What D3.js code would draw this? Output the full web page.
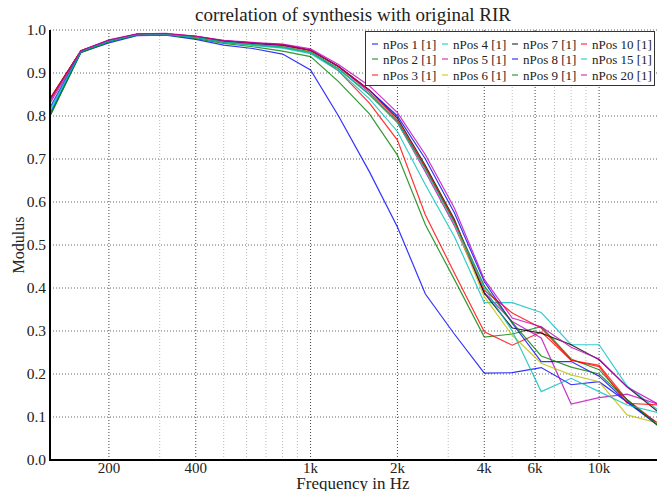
<!DOCTYPE html>
<html>
<head>
<meta charset="utf-8">
<script src="https://cdn.jsdelivr.net/npm/d3@7"></script>
<style>
  body { margin: 0; background: #fff; }
  text { font-family: "Liberation Serif", "DejaVu Serif", serif; fill: #222; }
</style>
</head>
<body>
<div id="chart"></div>
<script>
// third-octave band centres
const freqs = [125, 160, 200, 250, 315, 400, 500, 630, 800, 1000, 1250, 1600, 2000, 2500, 3150, 4000, 5000, 6300, 8000, 10000, 12500, 16000];

const seriesNames = ['nPos 1 [1]', 'nPos 2 [1]', 'nPos 3 [1]', 'nPos 4 [1]', 'nPos 5 [1]', 'nPos 6 [1]',
  'nPos 7 [1]', 'nPos 8 [1]', 'nPos 9 [1]', 'nPos 10 [1]', 'nPos 15 [1]', 'nPos 20 [1]'];

const seriesColors = ['#0000ff', '#008000', '#ff0000', '#00bfbf', '#bf00bf', '#bfbf00',
  '#000000', '#0000ff', '#008000', '#ff0000', '#00bfbf', '#bf00bf'];

const nPos1  = [0.805, 0.948, 0.970, 0.987, 0.988, 0.978, 0.965, 0.957, 0.944, 0.907, 0.800, 0.670, 0.542, 0.386, 0.293, 0.202, 0.203, 0.215, 0.175, 0.182, 0.135, 0.085];
const nPos2  = [0.800, 0.948, 0.972, 0.988, 0.989, 0.980, 0.969, 0.961, 0.951, 0.938, 0.880, 0.805, 0.709, 0.547, 0.420, 0.286, 0.293, 0.310, 0.235, 0.210, 0.140, 0.080];
const nPos3  = [0.840, 0.952, 0.975, 0.990, 0.990, 0.984, 0.973, 0.968, 0.963, 0.950, 0.905, 0.830, 0.744, 0.570, 0.435, 0.298, 0.267, 0.298, 0.232, 0.220, 0.140, 0.085];
const nPos4  = [0.810, 0.950, 0.973, 0.989, 0.990, 0.982, 0.971, 0.964, 0.958, 0.945, 0.905, 0.840, 0.764, 0.640, 0.520, 0.366, 0.366, 0.343, 0.268, 0.268, 0.172, 0.116];
const nPos5  = [0.830, 0.950, 0.975, 0.990, 0.990, 0.984, 0.974, 0.969, 0.965, 0.953, 0.915, 0.855, 0.785, 0.670, 0.545, 0.390, 0.322, 0.284, 0.130, 0.145, 0.153, 0.130];
const nPos6  = [0.835, 0.950, 0.975, 0.990, 0.990, 0.983, 0.973, 0.967, 0.962, 0.950, 0.910, 0.850, 0.785, 0.675, 0.550, 0.380, 0.290, 0.225, 0.198, 0.182, 0.105, 0.086];
const nPos7  = [0.840, 0.952, 0.976, 0.990, 0.991, 0.985, 0.975, 0.970, 0.966, 0.953, 0.915, 0.860, 0.795, 0.685, 0.560, 0.388, 0.307, 0.295, 0.268, 0.233, 0.170, 0.112];
const nPos8  = [0.820, 0.950, 0.975, 0.990, 0.990, 0.984, 0.974, 0.969, 0.965, 0.953, 0.915, 0.860, 0.800, 0.700, 0.575, 0.415, 0.318, 0.229, 0.229, 0.195, 0.135, 0.080];
const nPos9  = [0.800, 0.948, 0.973, 0.989, 0.990, 0.983, 0.972, 0.966, 0.960, 0.948, 0.910, 0.850, 0.785, 0.680, 0.555, 0.405, 0.320, 0.242, 0.216, 0.200, 0.140, 0.080];
const nPos10 = [0.840, 0.952, 0.976, 0.990, 0.991, 0.985, 0.975, 0.970, 0.966, 0.953, 0.915, 0.860, 0.790, 0.680, 0.555, 0.395, 0.342, 0.307, 0.232, 0.217, 0.132, 0.128];
const nPos15 = [0.815, 0.950, 0.974, 0.989, 0.990, 0.983, 0.972, 0.966, 0.960, 0.948, 0.910, 0.850, 0.785, 0.675, 0.550, 0.400, 0.300, 0.159, 0.190, 0.159, 0.128, 0.110];
const nPos20 = [0.835, 0.952, 0.977, 0.991, 0.992, 0.986, 0.976, 0.971, 0.967, 0.956, 0.920, 0.870, 0.808, 0.710, 0.586, 0.420, 0.330, 0.310, 0.262, 0.235, 0.170, 0.130];

const seriesValues = [nPos1, nPos2, nPos3, nPos4, nPos5, nPos6, nPos7, nPos8, nPos9, nPos10, nPos15, nPos20];

const xMajorTicks = [200, 400, 1000, 2000, 4000, 6000, 10000];
const xTickLabels = ['200', '400', '1k', '2k', '4k', '6k', '10k'];
const xMinorTicks = [300, 500, 600, 700, 800, 900, 3000, 5000, 7000, 8000, 9000];
const yTicks = [0, 0.1, 0.2, 0.3, 0.4, 0.5, 0.6, 0.7, 0.8, 0.9, 1.0];

const width = 657;
const height = 491;
const margin = { top: 30, right: 0, bottom: 31, left: 50 };

const svg = d3.select('#chart')
  .append('svg')
  .attr('width', width)
  .attr('height', height);

const x = d3.scaleLog()
  .domain([125, 16000])
  .range([margin.left, width + 1]);

const y = d3.scaleLinear()
  .domain([0, 1])
  .range([height - margin.bottom, margin.top]);

svg.append('clipPath').attr('id', 'clip')
  .append('rect')
  .attr('x', margin.left)
  .attr('y', margin.top - 5)
  .attr('width', width - margin.left)
  .attr('height', height - margin.bottom - margin.top + 5);

// grid
svg.selectAll('.xminor')
  .data(xMinorTicks)
  .enter().append('line')
  .attr('x1', d => x(d)).attr('x2', d => x(d))
  .attr('y1', y(0)).attr('y2', y(1))
  .attr('stroke', '#bbb')
  .attr('stroke-dasharray', '1,2');

svg.selectAll('.xmajor')
  .data(xMajorTicks)
  .enter().append('line')
  .attr('x1', d => x(d)).attr('x2', d => x(d))
  .attr('y1', y(0)).attr('y2', y(1))
  .attr('stroke', '#444')
  .attr('stroke-dasharray', '1,2');

svg.selectAll('.ygrid')
  .data(yTicks.slice(1))
  .enter().append('line')
  .attr('x1', margin.left).attr('x2', width)
  .attr('y1', d => y(d)).attr('y2', d => y(d))
  .attr('stroke', '#666')
  .attr('stroke-dasharray', '1,2');

// series
const line = d3.line()
  .x((d, i) => x(freqs[i]))
  .y(d => y(d));

svg.append('g')
  .attr('clip-path', 'url(#clip)')
  .selectAll('path')
  .data(seriesValues)
  .enter().append('path')
  .attr('fill', 'none')
  .attr('stroke', (d, i) => seriesColors[i])
  .attr('stroke-opacity', 0.8)
  .attr('stroke-width', 1.2)
  .attr('d', line);

// spines
svg.append('line')
  .attr('x1', margin.left).attr('x2', margin.left)
  .attr('y1', y(1)).attr('y2', y(0) + 1)
  .attr('stroke', '#000').attr('stroke-width', 2);
svg.append('line')
  .attr('x1', margin.left - 1).attr('x2', width)
  .attr('y1', y(0)).attr('y2', y(0))
  .attr('stroke', '#000').attr('stroke-width', 2);

// tick labels
svg.selectAll('.ylab')
  .data(yTicks)
  .enter().append('text')
  .attr('x', margin.left - 4)
  .attr('y', d => y(d))
  .attr('dy', '0.35em')
  .attr('text-anchor', 'end')
  .style('font-size', '15.5px')
  .text(d => d.toFixed(1));

svg.selectAll('.xlab')
  .data(xMajorTicks)
  .enter().append('text')
  .attr('x', d => x(d))
  .attr('y', y(0) + 13)
  .attr('text-anchor', 'middle')
  .style('font-size', '15px')
  .text((d, i) => xTickLabels[i]);

// titles
svg.append('text')
  .attr('x', 353)
  .attr('y', 21)
  .attr('text-anchor', 'middle')
  .style('font-size', '19px')
  .text('correlation of synthesis with original RIR');

svg.append('text')
  .attr('transform', `translate(24, ${(y(0) + y(1)) / 2}) rotate(-90)`)
  .attr('text-anchor', 'middle')
  .style('font-size', '16px')
  .text('Modulus');

svg.append('text')
  .attr('x', 353)
  .attr('y', 489)
  .attr('text-anchor', 'middle')
  .style('font-size', '17px')
  .text('Frequency in Hz');

// legend
const legend = svg.append('g');
legend.append('rect')
  .attr('x', 365.5).attr('y', 31.5)
  .attr('width', 289).attr('height', 54)
  .attr('fill', '#fff')
  .attr('stroke', '#333');

const colX = [372, 442, 512, 581];
const rowY = [44, 59, 75];

seriesNames.forEach((name, i) => {
  const col = Math.floor(i / 3);
  const row = i % 3;
  legend.append('line')
    .attr('x1', colX[col]).attr('x2', colX[col] + 6)
    .attr('y1', rowY[row]).attr('y2', rowY[row])
    .attr('stroke', seriesColors[i])
    .attr('stroke-opacity', 0.8)
    .attr('stroke-width', 1.2);
  legend.append('text')
    .attr('x', colX[col] + 11)
    .attr('y', rowY[row])
    .attr('dy', '0.35em')
    .style('font-size', '13px')
    .text(name);
});
</script>
</body>
</html>
